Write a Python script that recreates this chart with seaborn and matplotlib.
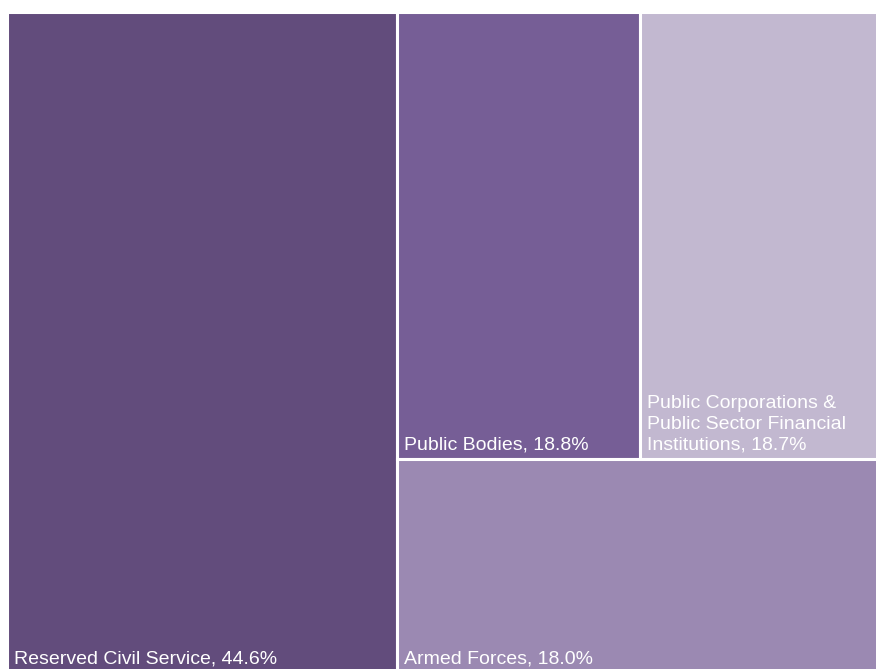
import matplotlib
matplotlib.use("Agg")
import matplotlib.pyplot as plt
import seaborn as sns

categories = ["Reserved Civil Service", "Public Bodies",
              "Public Corporations &\nPublic Sector Financial\nInstitutions", "Armed Forces"]
values = [44.6, 18.8, 18.7, 18.0]
colors = ["#624c7c", "#765e96", "#c2b8d0", "#9b89b2"]

sns.set_theme(style="white")
plt.rcParams['font.family'] = ['Liberation Sans', 'DejaVu Sans']

FW, FH = 876, 669
fig = plt.figure(figsize=(FW / 100, FH / 100), dpi=100)
# treemap spans pixels x 7..882, y 12..674 (slightly beyond the image edge)
ax = fig.add_axes([7 / FW, -5 / FH, (882 - 7) / FW, (674 - 12) / FH])

total = sum(values)
W, H = 100.0, 100.0
left_w = W * values[0] / total
right_w = W - left_w
right_total = sum(values[1:])
armed_h = H * values[3] / right_total
top_total = values[1] + values[2]
pb_w = right_w * values[1] / top_total
pc_w = right_w - pb_w

rects = [
    (0, 0, left_w, H),
    (left_w, armed_h, pb_w, H - armed_h),
    (left_w + pb_w, armed_h, pc_w, H - armed_h),
    (left_w, 0, right_w, armed_h),
]

px = 0.72  # points per pixel at 100 dpi
for (x, y, w, h), c, cat, v in zip(rects, colors, categories, values):
    ax.bar(x, h, width=w, bottom=y, align="edge", color=c,
           edgecolor="white", linewidth=2.2)
    ax.annotate(f"{cat}, {v:.1f}%", xy=(x, y), xytext=(7 * px, 6 * px),
                textcoords="offset points", color="white", fontsize=14,
                ha="left", va="bottom", linespacing=1.28)

ax.set_xlim(0, W)
ax.set_ylim(0, H)
ax.axis("off")
fig.savefig("out.png", dpi=100, facecolor="white")
